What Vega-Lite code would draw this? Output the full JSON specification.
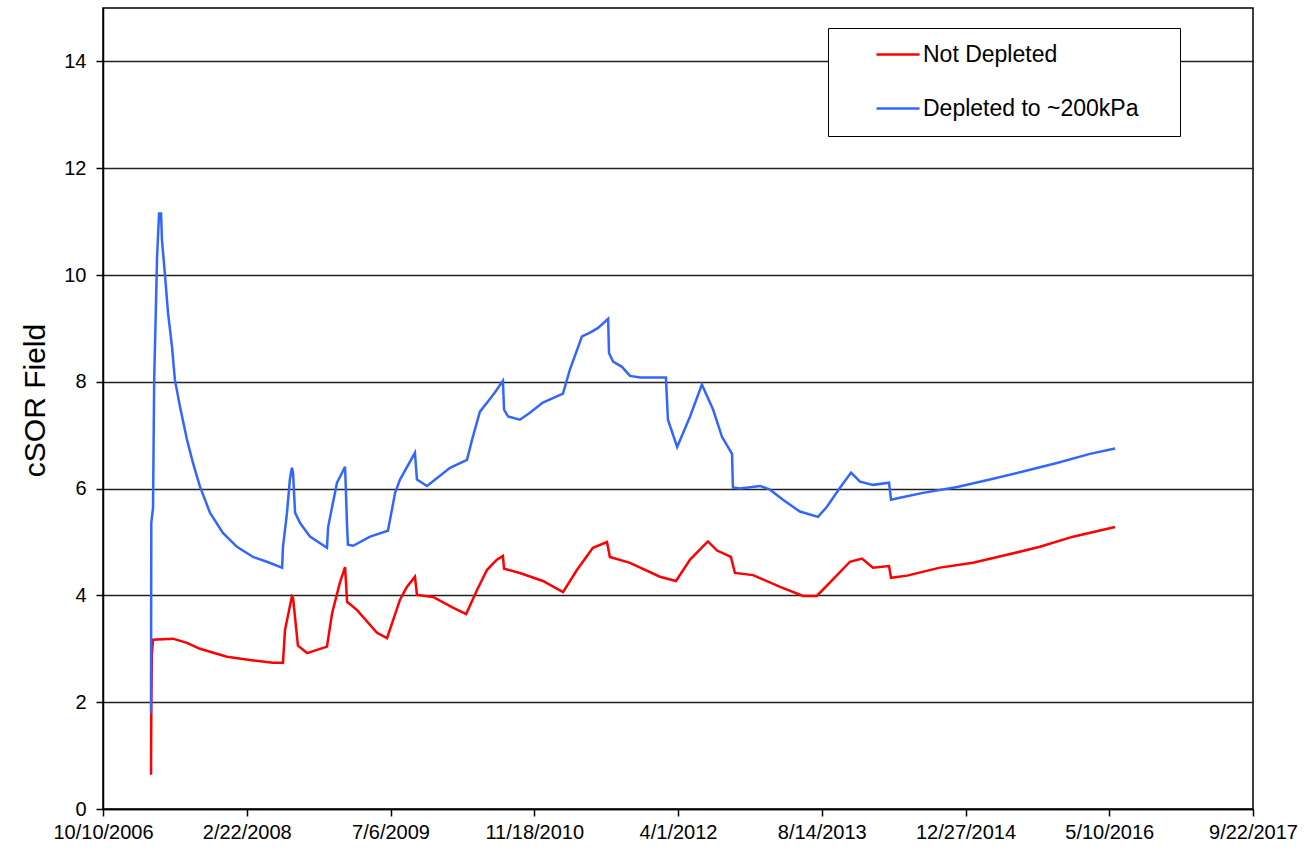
{
  "$schema": "https://vega.github.io/schema/vega-lite/v6.json",
  "width": 1150,
  "height": 801,
  "autosize": {"type": "none"},
  "padding": {"left": 103, "top": 8, "right": 55, "bottom": 41},
  "background": "white",
  "config": {
    "font": "Liberation Sans",
    "view": {"stroke": "#000", "strokeWidth": 1.5}
  },
  "data": {
    "values": [
      {"series": "Not Depleted", "date": "2007-03-26", "cSOR": 0.64},
      {"series": "Not Depleted", "date": "2007-03-27", "cSOR": 1.9},
      {"series": "Not Depleted", "date": "2007-03-29", "cSOR": 2.9},
      {"series": "Not Depleted", "date": "2007-04-02", "cSOR": 3.17},
      {"series": "Not Depleted", "date": "2007-06-10", "cSOR": 3.19},
      {"series": "Not Depleted", "date": "2007-07-29", "cSOR": 3.11},
      {"series": "Not Depleted", "date": "2007-09-12", "cSOR": 3.0},
      {"series": "Not Depleted", "date": "2007-12-15", "cSOR": 2.85},
      {"series": "Not Depleted", "date": "2008-03-04", "cSOR": 2.79},
      {"series": "Not Depleted", "date": "2008-05-23", "cSOR": 2.74},
      {"series": "Not Depleted", "date": "2008-06-27", "cSOR": 2.74},
      {"series": "Not Depleted", "date": "2008-07-04", "cSOR": 3.35},
      {"series": "Not Depleted", "date": "2008-07-28", "cSOR": 3.98},
      {"series": "Not Depleted", "date": "2008-08-01", "cSOR": 3.95},
      {"series": "Not Depleted", "date": "2008-08-18", "cSOR": 3.06},
      {"series": "Not Depleted", "date": "2008-09-19", "cSOR": 2.92},
      {"series": "Not Depleted", "date": "2008-11-27", "cSOR": 3.04},
      {"series": "Not Depleted", "date": "2008-12-15", "cSOR": 3.67},
      {"series": "Not Depleted", "date": "2009-01-11", "cSOR": 4.24},
      {"series": "Not Depleted", "date": "2009-01-29", "cSOR": 4.53},
      {"series": "Not Depleted", "date": "2009-02-05", "cSOR": 3.88},
      {"series": "Not Depleted", "date": "2009-03-11", "cSOR": 3.73},
      {"series": "Not Depleted", "date": "2009-05-20", "cSOR": 3.3},
      {"series": "Not Depleted", "date": "2009-06-24", "cSOR": 3.2},
      {"series": "Not Depleted", "date": "2009-08-08", "cSOR": 3.92},
      {"series": "Not Depleted", "date": "2009-09-01", "cSOR": 4.16},
      {"series": "Not Depleted", "date": "2009-09-29", "cSOR": 4.35},
      {"series": "Not Depleted", "date": "2009-10-06", "cSOR": 4.01},
      {"series": "Not Depleted", "date": "2009-12-01", "cSOR": 3.97},
      {"series": "Not Depleted", "date": "2010-02-08", "cSOR": 3.77},
      {"series": "Not Depleted", "date": "2010-03-26", "cSOR": 3.65},
      {"series": "Not Depleted", "date": "2010-05-03", "cSOR": 4.1},
      {"series": "Not Depleted", "date": "2010-06-07", "cSOR": 4.48},
      {"series": "Not Depleted", "date": "2010-07-11", "cSOR": 4.67},
      {"series": "Not Depleted", "date": "2010-08-01", "cSOR": 4.74},
      {"series": "Not Depleted", "date": "2010-08-05", "cSOR": 4.5},
      {"series": "Not Depleted", "date": "2010-09-29", "cSOR": 4.42},
      {"series": "Not Depleted", "date": "2010-12-18", "cSOR": 4.27},
      {"series": "Not Depleted", "date": "2011-02-26", "cSOR": 4.06},
      {"series": "Not Depleted", "date": "2011-04-16", "cSOR": 4.48},
      {"series": "Not Depleted", "date": "2011-06-10", "cSOR": 4.89},
      {"series": "Not Depleted", "date": "2011-07-29", "cSOR": 5.0},
      {"series": "Not Depleted", "date": "2011-08-08", "cSOR": 4.72},
      {"series": "Not Depleted", "date": "2011-10-17", "cSOR": 4.61},
      {"series": "Not Depleted", "date": "2012-01-29", "cSOR": 4.35},
      {"series": "Not Depleted", "date": "2012-03-25", "cSOR": 4.27},
      {"series": "Not Depleted", "date": "2012-05-13", "cSOR": 4.67},
      {"series": "Not Depleted", "date": "2012-07-14", "cSOR": 5.01},
      {"series": "Not Depleted", "date": "2012-08-15", "cSOR": 4.84},
      {"series": "Not Depleted", "date": "2012-10-02", "cSOR": 4.72},
      {"series": "Not Depleted", "date": "2012-10-16", "cSOR": 4.42},
      {"series": "Not Depleted", "date": "2012-12-18", "cSOR": 4.38},
      {"series": "Not Depleted", "date": "2013-03-22", "cSOR": 4.16},
      {"series": "Not Depleted", "date": "2013-06-10", "cSOR": 3.99},
      {"series": "Not Depleted", "date": "2013-07-28", "cSOR": 3.99},
      {"series": "Not Depleted", "date": "2013-09-22", "cSOR": 4.3},
      {"series": "Not Depleted", "date": "2013-11-20", "cSOR": 4.63},
      {"series": "Not Depleted", "date": "2014-01-01", "cSOR": 4.69},
      {"series": "Not Depleted", "date": "2014-02-08", "cSOR": 4.52},
      {"series": "Not Depleted", "date": "2014-04-05", "cSOR": 4.55},
      {"series": "Not Depleted", "date": "2014-04-12", "cSOR": 4.33},
      {"series": "Not Depleted", "date": "2014-06-07", "cSOR": 4.37},
      {"series": "Not Depleted", "date": "2014-09-29", "cSOR": 4.52},
      {"series": "Not Depleted", "date": "2015-01-22", "cSOR": 4.61},
      {"series": "Not Depleted", "date": "2015-05-20", "cSOR": 4.76},
      {"series": "Not Depleted", "date": "2015-09-12", "cSOR": 4.91},
      {"series": "Not Depleted", "date": "2016-01-05", "cSOR": 5.1},
      {"series": "Not Depleted", "date": "2016-05-30", "cSOR": 5.28},
      {"series": "Depleted to ~200kPa", "date": "2007-03-26", "cSOR": 1.8},
      {"series": "Depleted to ~200kPa", "date": "2007-03-27", "cSOR": 5.36},
      {"series": "Depleted to ~200kPa", "date": "2007-04-02", "cSOR": 5.64},
      {"series": "Depleted to ~200kPa", "date": "2007-04-06", "cSOR": 8.04},
      {"series": "Depleted to ~200kPa", "date": "2007-04-12", "cSOR": 9.39},
      {"series": "Depleted to ~200kPa", "date": "2007-04-16", "cSOR": 10.34},
      {"series": "Depleted to ~200kPa", "date": "2007-04-23", "cSOR": 11.15},
      {"series": "Depleted to ~200kPa", "date": "2007-04-30", "cSOR": 11.15},
      {"series": "Depleted to ~200kPa", "date": "2007-05-03", "cSOR": 10.66},
      {"series": "Depleted to ~200kPa", "date": "2007-05-14", "cSOR": 9.97},
      {"series": "Depleted to ~200kPa", "date": "2007-05-24", "cSOR": 9.3},
      {"series": "Depleted to ~200kPa", "date": "2007-06-07", "cSOR": 8.66},
      {"series": "Depleted to ~200kPa", "date": "2007-06-17", "cSOR": 8.04},
      {"series": "Depleted to ~200kPa", "date": "2007-07-05", "cSOR": 7.53},
      {"series": "Depleted to ~200kPa", "date": "2007-07-29", "cSOR": 6.92},
      {"series": "Depleted to ~200kPa", "date": "2007-08-19", "cSOR": 6.48},
      {"series": "Depleted to ~200kPa", "date": "2007-09-12", "cSOR": 6.04},
      {"series": "Depleted to ~200kPa", "date": "2007-10-17", "cSOR": 5.55},
      {"series": "Depleted to ~200kPa", "date": "2007-12-01", "cSOR": 5.17},
      {"series": "Depleted to ~200kPa", "date": "2008-01-19", "cSOR": 4.91},
      {"series": "Depleted to ~200kPa", "date": "2008-03-15", "cSOR": 4.72},
      {"series": "Depleted to ~200kPa", "date": "2008-05-02", "cSOR": 4.63},
      {"series": "Depleted to ~200kPa", "date": "2008-06-24", "cSOR": 4.52},
      {"series": "Depleted to ~200kPa", "date": "2008-06-27", "cSOR": 4.91},
      {"series": "Depleted to ~200kPa", "date": "2008-07-11", "cSOR": 5.55},
      {"series": "Depleted to ~200kPa", "date": "2008-07-21", "cSOR": 6.17},
      {"series": "Depleted to ~200kPa", "date": "2008-07-28", "cSOR": 6.39},
      {"series": "Depleted to ~200kPa", "date": "2008-08-01", "cSOR": 6.3},
      {"series": "Depleted to ~200kPa", "date": "2008-08-08", "cSOR": 5.55},
      {"series": "Depleted to ~200kPa", "date": "2008-08-25", "cSOR": 5.36},
      {"series": "Depleted to ~200kPa", "date": "2008-09-29", "cSOR": 5.1},
      {"series": "Depleted to ~200kPa", "date": "2008-11-27", "cSOR": 4.89},
      {"series": "Depleted to ~200kPa", "date": "2008-12-01", "cSOR": 5.28},
      {"series": "Depleted to ~200kPa", "date": "2008-12-15", "cSOR": 5.66},
      {"series": "Depleted to ~200kPa", "date": "2009-01-01", "cSOR": 6.11},
      {"series": "Depleted to ~200kPa", "date": "2009-01-29", "cSOR": 6.41},
      {"series": "Depleted to ~200kPa", "date": "2009-02-05", "cSOR": 5.28},
      {"series": "Depleted to ~200kPa", "date": "2009-02-08", "cSOR": 4.95},
      {"series": "Depleted to ~200kPa", "date": "2009-02-26", "cSOR": 4.93},
      {"series": "Depleted to ~200kPa", "date": "2009-04-26", "cSOR": 5.1},
      {"series": "Depleted to ~200kPa", "date": "2009-06-27", "cSOR": 5.21},
      {"series": "Depleted to ~200kPa", "date": "2009-07-22", "cSOR": 5.92},
      {"series": "Depleted to ~200kPa", "date": "2009-08-08", "cSOR": 6.17},
      {"series": "Depleted to ~200kPa", "date": "2009-09-29", "cSOR": 6.67},
      {"series": "Depleted to ~200kPa", "date": "2009-10-06", "cSOR": 6.17},
      {"series": "Depleted to ~200kPa", "date": "2009-11-10", "cSOR": 6.05},
      {"series": "Depleted to ~200kPa", "date": "2010-01-29", "cSOR": 6.39},
      {"series": "Depleted to ~200kPa", "date": "2010-03-29", "cSOR": 6.54},
      {"series": "Depleted to ~200kPa", "date": "2010-04-16", "cSOR": 6.92},
      {"series": "Depleted to ~200kPa", "date": "2010-05-13", "cSOR": 7.44},
      {"series": "Depleted to ~200kPa", "date": "2010-06-10", "cSOR": 7.63},
      {"series": "Depleted to ~200kPa", "date": "2010-07-04", "cSOR": 7.8},
      {"series": "Depleted to ~200kPa", "date": "2010-08-01", "cSOR": 8.02},
      {"series": "Depleted to ~200kPa", "date": "2010-08-05", "cSOR": 7.48},
      {"series": "Depleted to ~200kPa", "date": "2010-08-19", "cSOR": 7.35},
      {"series": "Depleted to ~200kPa", "date": "2010-09-29", "cSOR": 7.29},
      {"series": "Depleted to ~200kPa", "date": "2010-11-03", "cSOR": 7.42},
      {"series": "Depleted to ~200kPa", "date": "2010-12-18", "cSOR": 7.61},
      {"series": "Depleted to ~200kPa", "date": "2011-02-26", "cSOR": 7.78},
      {"series": "Depleted to ~200kPa", "date": "2011-03-22", "cSOR": 8.23},
      {"series": "Depleted to ~200kPa", "date": "2011-05-03", "cSOR": 8.85},
      {"series": "Depleted to ~200kPa", "date": "2011-05-31", "cSOR": 8.92},
      {"series": "Depleted to ~200kPa", "date": "2011-06-28", "cSOR": 9.01},
      {"series": "Depleted to ~200kPa", "date": "2011-08-02", "cSOR": 9.18},
      {"series": "Depleted to ~200kPa", "date": "2011-08-05", "cSOR": 8.54},
      {"series": "Depleted to ~200kPa", "date": "2011-08-19", "cSOR": 8.38},
      {"series": "Depleted to ~200kPa", "date": "2011-09-19", "cSOR": 8.28},
      {"series": "Depleted to ~200kPa", "date": "2011-10-17", "cSOR": 8.11},
      {"series": "Depleted to ~200kPa", "date": "2011-11-21", "cSOR": 8.08},
      {"series": "Depleted to ~200kPa", "date": "2012-02-19", "cSOR": 8.08},
      {"series": "Depleted to ~200kPa", "date": "2012-02-26", "cSOR": 7.29},
      {"series": "Depleted to ~200kPa", "date": "2012-03-29", "cSOR": 6.78},
      {"series": "Depleted to ~200kPa", "date": "2012-05-13", "cSOR": 7.35},
      {"series": "Depleted to ~200kPa", "date": "2012-06-23", "cSOR": 7.95},
      {"series": "Depleted to ~200kPa", "date": "2012-08-01", "cSOR": 7.48},
      {"series": "Depleted to ~200kPa", "date": "2012-09-01", "cSOR": 6.97},
      {"series": "Depleted to ~200kPa", "date": "2012-10-06", "cSOR": 6.65},
      {"series": "Depleted to ~200kPa", "date": "2012-10-09", "cSOR": 6.02},
      {"series": "Depleted to ~200kPa", "date": "2012-11-03", "cSOR": 6.0},
      {"series": "Depleted to ~200kPa", "date": "2013-01-11", "cSOR": 6.05},
      {"series": "Depleted to ~200kPa", "date": "2013-02-15", "cSOR": 5.98},
      {"series": "Depleted to ~200kPa", "date": "2013-04-01", "cSOR": 5.79},
      {"series": "Depleted to ~200kPa", "date": "2013-05-30", "cSOR": 5.57},
      {"series": "Depleted to ~200kPa", "date": "2013-08-01", "cSOR": 5.47},
      {"series": "Depleted to ~200kPa", "date": "2013-09-01", "cSOR": 5.66},
      {"series": "Depleted to ~200kPa", "date": "2013-10-17", "cSOR": 6.02},
      {"series": "Depleted to ~200kPa", "date": "2013-11-24", "cSOR": 6.3},
      {"series": "Depleted to ~200kPa", "date": "2013-12-25", "cSOR": 6.13},
      {"series": "Depleted to ~200kPa", "date": "2014-02-08", "cSOR": 6.07},
      {"series": "Depleted to ~200kPa", "date": "2014-04-05", "cSOR": 6.11},
      {"series": "Depleted to ~200kPa", "date": "2014-04-12", "cSOR": 5.79},
      {"series": "Depleted to ~200kPa", "date": "2014-05-13", "cSOR": 5.83},
      {"series": "Depleted to ~200kPa", "date": "2014-08-01", "cSOR": 5.92},
      {"series": "Depleted to ~200kPa", "date": "2014-11-28", "cSOR": 6.03},
      {"series": "Depleted to ~200kPa", "date": "2015-03-22", "cSOR": 6.17},
      {"series": "Depleted to ~200kPa", "date": "2015-07-15", "cSOR": 6.32},
      {"series": "Depleted to ~200kPa", "date": "2015-11-10", "cSOR": 6.48},
      {"series": "Depleted to ~200kPa", "date": "2016-03-04", "cSOR": 6.65},
      {"series": "Depleted to ~200kPa", "date": "2016-05-30", "cSOR": 6.75}
    ]
  },
  "mark": {"type": "line", "strokeWidth": 2.5},
  "encoding": {
    "x": {
      "field": "date",
      "type": "temporal",
      "scale": {"domain": [{"year": 2006, "month": 10, "date": 10}, {"year": 2017, "month": 9, "date": 22}]},
      "axis": {
        "values": [
          {"year": 2006, "month": 10, "date": 10},
          {"year": 2008, "month": 2, "date": 22},
          {"year": 2009, "month": 7, "date": 6},
          {"year": 2010, "month": 11, "date": 18},
          {"year": 2012, "month": 4, "date": 1},
          {"year": 2013, "month": 8, "date": 14},
          {"year": 2014, "month": 12, "date": 27},
          {"year": 2016, "month": 5, "date": 10},
          {"year": 2017, "month": 9, "date": 22}
        ],
        "format": "%-m/%-d/%Y",
        "title": null,
        "grid": false,
        "labelFontSize": 20,
        "labelColor": "#000",
        "labelFlush": false,
        "labelOverlap": false,
        "tickSize": 7,
        "tickColor": "#000",
        "tickWidth": 1.5,
        "domainColor": "#000",
        "domainWidth": 1.5,
        "labelPadding": 6
      }
    },
    "y": {
      "field": "cSOR",
      "type": "quantitative",
      "scale": {"domain": [0, 15], "nice": false},
      "axis": {
        "values": [0, 2, 4, 6, 8, 10, 12, 14],
        "title": "cSOR Field",
        "titleFontSize": 30,
        "titleFontWeight": "normal",
        "titleColor": "#000",
        "titleAngle": -90,
        "titleAlign": "center",
        "titleBaseline": "middle",
        "titleX": -68,
        "titleY": 392,
        "labelFontSize": 20,
        "labelColor": "#000",
        "labelPadding": 10,
        "gridColor": "#222",
        "gridWidth": 1.5,
        "tickSize": 7,
        "tickColor": "#000",
        "tickWidth": 1.5,
        "domainColor": "#000",
        "domainWidth": 1.5
      }
    },
    "color": {
      "field": "series",
      "type": "nominal",
      "scale": {"domain": ["Not Depleted", "Depleted to ~200kPa"], "range": ["#FF0000", "#3366FF"]},
      "legend": {
        "orient": "none",
        "legendX": 725,
        "legendY": 20,
        "title": null,
        "strokeColor": "#000",
        "fillColor": "#fff",
        "padding": 15,
        "symbolType": "M-1,0H1",
        "symbolSize": 1849,
        "symbolStrokeWidth": 2.5,
        "symbolOffset": 32,
        "clipHeight": 23,
        "labelOffset": 2,
        "labelFontSize": 23,
        "labelColor": "#000",
        "labelLimit": 500,
        "rowPadding": 30,
        "labelExpr": "datum.label + '\u00a0\u00a0\u00a0\u00a0\u200b'"
      }
    }
  }
}
